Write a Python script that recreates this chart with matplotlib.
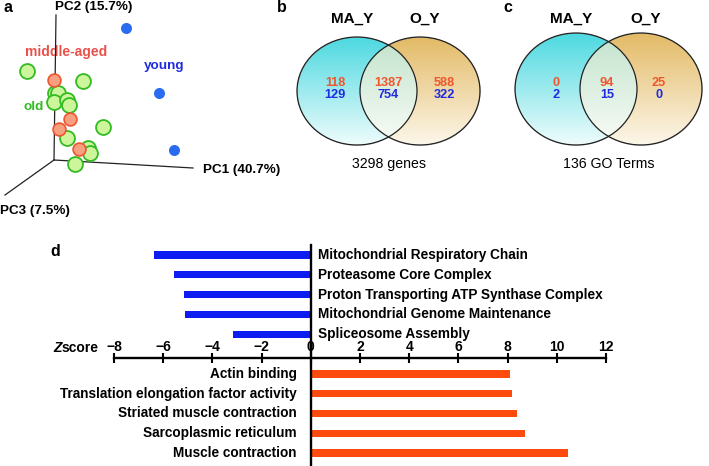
import numpy as np
import matplotlib.pyplot as plt
from matplotlib.patches import Ellipse

plt.rcParams['font.family'] = ['Liberation Sans', 'DejaVu Sans']

W, H = 709, 466

# panel a - PCA projection (x = PC1 direction, y = PC2 direction)
young_x = [72, 105, 120]
young_y = [132, 67, 10]
old_x = [-27, 29, 1, 4, 0, 13, 15, 49, 13, 34, 36, 21]
old_y = [89, 79, 67, 67, 58, 60, 55, 33, 22, 12, 7, -4]
mid_x = [0, 16, 5, 25]
mid_y = [80, 41, 31, 11]

# panel b, c - venn counts (only MA_Y, both, only O_Y)
genes_up = [118, 1387, 588]
genes_down = [129, 754, 322]
go_up = [0, 94, 25]
go_down = [2, 15, 0]

# panel d - z scores
down_terms = ['Mitochondrial Respiratory Chain', 'Proteasome Core Complex',
              'Proton Transporting ATP Synthase Complex',
              'Mitochondrial Genome Maintenance', 'Spliceosome Assembly']
down_z = [-6.38, -5.57, -5.16, -5.12, -3.17]
up_terms = ['Actin binding', 'Translation elongation factor activity',
            'Striated muscle contraction', 'Sarcoplasmic reticulum',
            'Muscle contraction']
up_z = [8.09, 8.17, 8.37, 8.70, 10.45]
z_ticks = [-8, -6, -4, -2, 0, 2, 4, 6, 8, 10, 12]

RED = '#f0562a'
BLUE = '#1f2be0'
GREEN = '#33bb22'


def box(x0, y0, x1, y1):
    return [x0 / W, 1 - y1 / H, (x1 - x0) / W, (y1 - y0) / H]


fig = plt.figure(figsize=(W / 100, H / 100), dpi=100)

# background axes in pixel units for texts and venns
ax0 = fig.add_axes([0, 0, 1, 1])
ax0.set_xlim(0, W)
ax0.set_ylim(H, 0)
ax0.axis('off')

# ---- panel a
axa = fig.add_axes(box(0, 0, 240, 230))
axa.set_xlim(-54, 186)
axa.set_ylim(-70, 160)
axa.axis('off')
axa.plot([0, 2], [0, 145], color='#222222', lw=0.9)
axa.plot([0, 139], [0, -8], color='#222222', lw=0.9)
axa.plot([0, -49], [0, -35], color='#222222', lw=0.9)
axa.scatter(old_x, old_y, s=115, facecolor='#ccf59c', edgecolor=GREEN, lw=1.3, zorder=3)
axa.scatter(mid_x, mid_y, s=85, facecolor='#f7a080', edgecolor='#ee5530', lw=1.2, zorder=4)
axa.scatter(young_x, young_y, s=48, facecolor='#2a6cf0', edgecolor='#2a6cf0', zorder=4)

ax0.text(3, 8, 'a', fontsize=11.5, fontweight='bold', va='center')
ax0.text(55, 7, 'PC2 (15.7%)', fontsize=9.7, fontweight='bold', va='center')
ax0.text(203, 170, 'PC1 (40.7%)', fontsize=9.7, fontweight='bold', va='center')
ax0.text(0, 211, 'PC3 (7.5%)', fontsize=9.7, fontweight='bold', va='center')
ax0.text(25, 52, 'middle-aged', fontsize=10, fontweight='bold', color='#e8524a', va='center')
ax0.text(144, 66, 'young', fontsize=9.7, fontweight='bold', color=BLUE, va='center')
ax0.text(23, 107, 'old', fontsize=9.7, fontweight='bold', color=GREEN, va='center')


# ---- panels b, c
def venn(cxl, cxr, cy, rx, ry, up, down, xs_num, caption, letter, letter_x):
    x0, x1 = cxl - rx - 2, cxr + rx + 2
    y0, y1 = cy - ry - 2, cy + ry + 2
    X, Y = np.meshgrid(np.arange(x0, x1, 0.5), np.arange(y0, y1, 0.5))
    inl = ((X - cxl) / rx) ** 2 + ((Y - cy) / ry) ** 2 <= 1
    inr = ((X - cxr) / rx) ** 2 + ((Y - cy) / ry) ** 2 <= 1
    t = np.clip((Y - (cy - ry)) / (2 * ry), 0, 1)[..., None]
    img = np.zeros(X.shape + (4,))
    fills = [(inl & ~inr, (0.30, 0.85, 0.88), (0.94, 0.99, 0.99)),
             (inr & ~inl, (0.89, 0.73, 0.40), (0.99, 0.97, 0.92)),
             (inl & inr, (0.76, 0.89, 0.80), (0.98, 0.99, 0.97))]
    for mask, top, bot in fills:
        col = np.array(top) * (1 - t) + np.array(bot) * t
        img[mask, :3] = col[mask]
        img[mask, 3] = 1
    ax0.imshow(img, extent=(x0, x1, y1, y0), interpolation='bilinear', zorder=1)
    for cx in (cxl, cxr):
        ax0.add_patch(Ellipse((cx, cy), 2 * rx, 2 * ry, fill=False,
                              ec='#222222', lw=0.9, zorder=2))
    for x, u, d in zip(xs_num, up, down):
        ax0.text(x, 83, str(u), color=RED, fontsize=9.2, fontweight='bold',
                 ha='center', va='center', zorder=3)
        ax0.text(x, 95, str(d), color=BLUE, fontsize=9.2, fontweight='bold',
                 ha='center', va='center', zorder=3)
    ax0.text(cxl - 5, 19, 'MA_Y', fontsize=11, fontweight='bold', ha='center', va='center')
    ax0.text(cxr + 5, 19, 'O_Y', fontsize=11, fontweight='bold', ha='center', va='center')
    ax0.text((cxl + cxr) / 2, 164, caption, fontsize=10.2, ha='center', va='center')
    ax0.text(letter_x, 8, letter, fontsize=11.5, fontweight='bold', va='center')


venn(357, 420, 91, 60, 54, genes_up, genes_down, [335, 388, 444],
     '3298 genes', 'b', 277)
venn(576, 641, 89, 61, 56, go_up, go_down, [556, 607, 659],
     '136 GO Terms', 'c', 503)
ax0.set_xlim(0, W)
ax0.set_ylim(H, 0)
ax0.set_aspect('auto')

# ---- panel d
axd = fig.add_axes(box(114, 245, 606, 466))
axd.patch.set_alpha(0)
axd.set_xlim(-8, 12)
axd.set_ylim(10.65, -0.5)
pos_down = np.arange(len(down_terms))
pos_up = np.arange(len(up_terms)) + 6
axd.barh(pos_down, down_z, height=0.37, color='#0d1cf0')
axd.barh(pos_up, up_z, height=0.37, color='#ff4a0e')
for y, term in zip(pos_down, down_terms):
    axd.annotate(term, xy=(0, y), xytext=(7, 0), textcoords='offset pixels',
                 fontsize=9.8, fontweight='bold', ha='left', va='center')
for y, term in zip(pos_up, up_terms):
    axd.annotate(term, xy=(0, y), xytext=(-14, 0), textcoords='offset pixels',
                 fontsize=9.8, fontweight='bold', ha='right', va='center')

axd.spines['right'].set_visible(False)
axd.spines['bottom'].set_visible(False)
axd.spines['left'].set_position(('data', 0))
axd.spines['top'].set_position(('data', 5.2))
axd.spines['left'].set_linewidth(1.7)
axd.spines['top'].set_linewidth(1.7)
axd.set_yticks([])
axd.xaxis.tick_top()
axd.set_xticks(z_ticks)
axd.tick_params(axis='x', direction='inout', length=7, width=1.5, pad=-0.5,
                labelsize=10)
for lab in axd.get_xticklabels():
    lab.set_fontweight('bold')

ax0.text(50, 252, 'd', fontsize=11.5, fontweight='bold', va='center')
ax0.text(53, 348, 'Z', fontsize=10, fontweight='bold', style='italic', va='center')
ax0.text(61.5, 348, 'score', fontsize=10, fontweight='bold', va='center')

fig.savefig('out.png', dpi=100)
